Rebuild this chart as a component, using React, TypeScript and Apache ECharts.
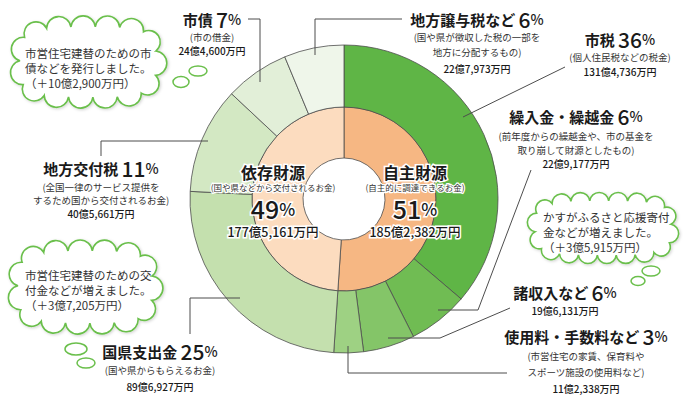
import React, { useEffect, useRef } from "react";
import * as echarts from "echarts";

// ---- data ----
const innerNames = ["自主財源", "依存財源"];
const innerNotes = ["(自主的に調達できるお金)", "(国や県などから交付されるお金)"];
const innerValues = [1852382, 1775161]; // 万円
const innerPercents = [51, 49];

const outerNames = ["市税", "繰入金・繰越金", "諸収入など", "使用料・手数料など", "国県支出金", "地方交付税", "市債", "地方譲与税など"];
const outerValues = [1314736, 229177, 196131, 112338, 896927, 405661, 244600, 227973]; // 万円
const outerPercents = [36, 6, 6, 3, 25, 11, 7, 6];
const outerNotes: string[][] = [
  ["(個人住民税などの税金)"],
  ["(前年度からの繰越金や、市の基金を", "取り崩して財源としたもの)"],
  [],
  ["(市営住宅の家賃、保育料や", "スポーツ施設の使用料など)"],
  ["(国や県からもらえるお金)"],
  ["(全国一律のサービス提供を", "するため国から交付されるお金)"],
  ["(市の借金)"],
  ["(国や県が徴収した税の一部を", "地方に分配するもの)"],
];

const cloudTexts = [
  ["市営住宅建替のための市", "債などを発行しました。", "（＋10億2,900万円）"],
  ["市営住宅建替のための交", "付金などが増えました。", "（＋3億7,205万円）"],
  ["かすがふるさと応援寄付", "金などが増えました。", "（＋3億5,915万円）"],
];

// ---- styles / layout ----
const FONT = "'Noto Sans CJK JP', 'Noto Sans', sans-serif";
const innerColors = ["#f6b783", "#fcdcbf"];
const outerColors = ["#5fb546", "#70bc53", "#84c568", "#9ed183", "#c4e0ae", "#d3e8c3", "#e2efd8", "#eff6ea"];
const CX = 344;
const CY = 199;

const outerLayout = [
  { x: 620, ty: 39, ny: [57], ay: 71, line: [[565, 67], [463, 117]] },
  { x: 576, ty: 116, ny: [136, 150], ay: 163, line: [[531, 170], [478, 310], [438, 310]] },
  { x: 565, ty: 292, ny: [], ay: 310, line: [[510, 308], [440, 338], [388, 338]] },
  { x: 586, ty: 336, ny: [356, 372], ay: 388, line: [[507, 373], [348, 373], [348, 346]] },
  { x: 160, ty: 351, ny: [370], ay: 386, line: [[190, 334], [190, 298], [240, 298]] },
  { x: 101, ty: 168, ny: [187, 200], ay: 213, line: [[101, 156], [101, 141], [208, 141]] },
  { x: 212, ty: 19, ny: [37], ay: 50, line: [[248, 19], [260, 19], [260, 82]] },
  { x: 477, ty: 19, ny: [37, 52], ay: 68, line: [[402, 19], [315, 19], [315, 55]] },
];

const innerLayout = [
  { x: 415, ty: 172, ny: 187, py: 208, ay: 231 },
  { x: 273, ty: 172, ny: 187, py: 208, ay: 231 },
];

const cloudLayout = [
  { cx: 88, cy: 62, rx: 68, ry: 35, n: 15, tx: 25, ty: 53, bubbles: [[198, 71, 9, 5], [181, 82, 8, 5.5]] },
  { cx: 85, cy: 287, rx: 67, ry: 36, n: 15, tx: 25, ty: 275, bubbles: [[76, 349, 11, 6], [86, 363, 9, 5]] },
  { cx: 603, cy: 228, rx: 68, ry: 27, n: 18, tx: 543, ty: 217, bubbles: [[651, 271, 9, 5], [638, 281, 7, 4.5]] },
];

function formatAmount(v: number) {
  const oku = Math.floor(v / 10000);
  const man = v % 10000;
  return `${oku}億${man.toLocaleString("en-US")}万円`;
}

function cloudPath(cx: number, cy: number, rx: number, ry: number, n: number) {
  const P = 4;
  const M = 1440;
  const dense: number[][] = [];
  for (let k = 0; k <= M; k++) {
    const t = -Math.PI / 2 + (k * 2 * Math.PI) / M;
    const c = Math.cos(t);
    const s = Math.sin(t);
    dense.push([
      cx + rx * Math.sign(c) * Math.pow(Math.abs(c), 2 / P),
      cy + ry * Math.sign(s) * Math.pow(Math.abs(s), 2 / P),
    ]);
  }
  const cum = [0];
  for (let k = 1; k <= M; k++) {
    cum.push(cum[k - 1] + Math.hypot(dense[k][0] - dense[k - 1][0], dense[k][1] - dense[k - 1][1]));
  }
  const total = cum[M];
  const pts: number[][] = [];
  let k = 0;
  for (let i = 0; i < n; i++) {
    const target = ((i + 0.3) * total) / n;
    while (k < M && cum[k + 1] < target) k++;
    const f = (target - cum[k]) / (cum[k + 1] - cum[k] || 1);
    pts.push([dense[k][0] + f * (dense[k + 1][0] - dense[k][0]), dense[k][1] + f * (dense[k + 1][1] - dense[k][1])]);
  }
  let d = `M${pts[0][0].toFixed(2)} ${pts[0][1].toFixed(2)}`;
  for (let i = 0; i < n; i++) {
    const p = pts[i];
    const q = pts[(i + 1) % n];
    const ch = Math.hypot(q[0] - p[0], q[1] - p[1]);
    const r = ch * 0.5 + 0.05;
    d += ` A${r.toFixed(2)} ${r.toFixed(2)} 0 0 1 ${q[0].toFixed(2)} ${q[1].toFixed(2)}`;
  }
  return d + " Z";
}

let registered = false;
function registerClouds() {
  if (registered) return;
  cloudLayout.forEach((c, i) => {
    echarts.graphic.registerShape(
      "cloud" + i,
      echarts.graphic.extendPath(cloudPath(c.cx, c.cy, c.rx, c.ry, c.n), {})
    );
  });
  registered = true;
}

export default function App() {
  const ref = useRef<HTMLDivElement>(null);
  useEffect(() => {
    if (!ref.current) return;
    registerClouds();
    const chart = echarts.init(ref.current, undefined, { renderer: "svg" });

    const graphics: any[] = [];

    cloudLayout.forEach((c, i) => {
      graphics.push({
        type: "cloud" + i,
        x: 0,
        y: 0,
        z: 10,
        style: { fill: "#ffffff", stroke: "#6abf4b", lineWidth: 1.6, shadowBlur: 3, shadowColor: "rgba(0,0,0,0.18)", shadowOffsetX: 1, shadowOffsetY: 1 },
      });
      c.bubbles.forEach((b) => {
        graphics.push({
          type: "ellipse",
          z: 10,
          shape: { cx: b[0], cy: b[1], rx: b[2], ry: b[3] },
          style: { fill: "#ffffff", stroke: "#6abf4b", lineWidth: 1.5 },
        });
      });
      cloudTexts[i].forEach((t, j) => {
        graphics.push({
          type: "text",
          z: 11,
          style: { text: t, x: c.tx, y: c.ty + j * 15, fill: "#333333", font: `400 11.5px ${FONT}`, align: "left", verticalAlign: "middle", lineHeight: 13 },
        });
      });
    });

    outerNames.forEach((name, i) => {
      const L = outerLayout[i];
      graphics.push({
        type: "polyline",
        z: 5,
        shape: { points: L.line },
        style: { stroke: "#4d4d4d", lineWidth: 1, fill: null },
      });
      graphics.push({
        type: "text",
        z: 6,
        style: {
          text: `{n|${name}} {v|${outerPercents[i]}}{p|%}`,
          x: L.x,
          y: L.ty,
          align: "center",
          verticalAlign: "middle",
          rich: {
            n: { fontSize: 15, fontWeight: "bold", fill: "#1a1a1a", fontFamily: FONT, lineHeight: 15 },
            v: { fontSize: 21, fontWeight: 500, fill: "#1a1a1a", fontFamily: FONT, lineHeight: 15 },
            p: { fontSize: 14, fontWeight: 500, fill: "#1a1a1a", fontFamily: FONT, lineHeight: 15 },
          },
        },
      });
      outerNotes[i].forEach((t, j) => {
        graphics.push({
          type: "text",
          z: 6,
          style: { text: t, x: L.x, y: L.ny[j], fill: "#333333", font: `400 9.5px ${FONT}`, align: "center", verticalAlign: "middle", lineHeight: 11 },
        });
      });
      graphics.push({
        type: "text",
        z: 6,
        style: { text: formatAmount(outerValues[i]), x: L.x, y: L.ay, fill: "#1a1a1a", font: `500 10px ${FONT}`, align: "center", verticalAlign: "middle", lineHeight: 11 },
      });
    });

    innerNames.forEach((name, i) => {
      const L = innerLayout[i];
      const halo = { stroke: "#ffffff", lineWidth: 3, strokeFirst: true };
      graphics.push({
        type: "text",
        z: 6,
        style: { text: name, x: L.x, y: L.ty, fill: "#1a1a1a", font: `bold 16px ${FONT}`, align: "center", verticalAlign: "middle", lineHeight: 17, ...halo },
      });
      graphics.push({
        type: "text",
        z: 6,
        style: { text: innerNotes[i], x: L.x, y: L.ny, fill: "#333333", font: `400 8.5px ${FONT}`, align: "center", verticalAlign: "middle", lineHeight: 10, ...halo, lineWidth: 2.5 },
      });
      graphics.push({
        type: "text",
        z: 6,
        style: {
          text: `{v|${innerPercents[i]}}{p|%}`,
          x: L.x,
          y: L.py,
          align: "center",
          verticalAlign: "middle",
          rich: {
            v: { fontSize: 25, fontWeight: 500, fill: "#1a1a1a", fontFamily: FONT, stroke: "#fff", lineWidth: 3, lineHeight: 19 },
            p: { fontSize: 17, fontWeight: 500, fill: "#1a1a1a", fontFamily: FONT, stroke: "#fff", lineWidth: 3, lineHeight: 19 },
          },
          strokeFirst: true,
        },
      });
      graphics.push({
        type: "text",
        z: 6,
        style: { text: formatAmount(innerValues[i]), x: L.x, y: L.ay, fill: "#1a1a1a", font: `500 12.5px ${FONT}`, align: "center", verticalAlign: "middle", lineHeight: 13, ...halo },
      });
    });

    chart.setOption({
      animation: false,
      backgroundColor: "#ffffff",
      series: [
        {
          type: "pie",
          radius: [41, 92],
          center: [CX, CY],
          startAngle: 90,
          clockwise: true,
          silent: true,
          label: { show: false },
          labelLine: { show: false },
          emphasis: { disabled: true },
          itemStyle: { borderColor: "#4d4d4d", borderWidth: 0.8 },
          data: innerNames.map((n, i) => ({ name: n, value: innerValues[i], itemStyle: { color: innerColors[i] } })),
        },
        {
          type: "pie",
          radius: [92, 154],
          center: [CX, CY],
          startAngle: 90,
          clockwise: true,
          silent: true,
          label: { show: false },
          labelLine: { show: false },
          emphasis: { disabled: true },
          itemStyle: { borderColor: "#4d4d4d", borderWidth: 0.8 },
          data: outerNames.map((n, i) => ({ name: n, value: outerValues[i], itemStyle: { color: outerColors[i] } })),
        },
      ],
      graphic: { elements: graphics },
    });
    return () => chart.dispose();
  }, []);
  return <div ref={ref} style={{ position: "fixed", left: 0, top: 0, width: 690, height: 395 }} />;
}
